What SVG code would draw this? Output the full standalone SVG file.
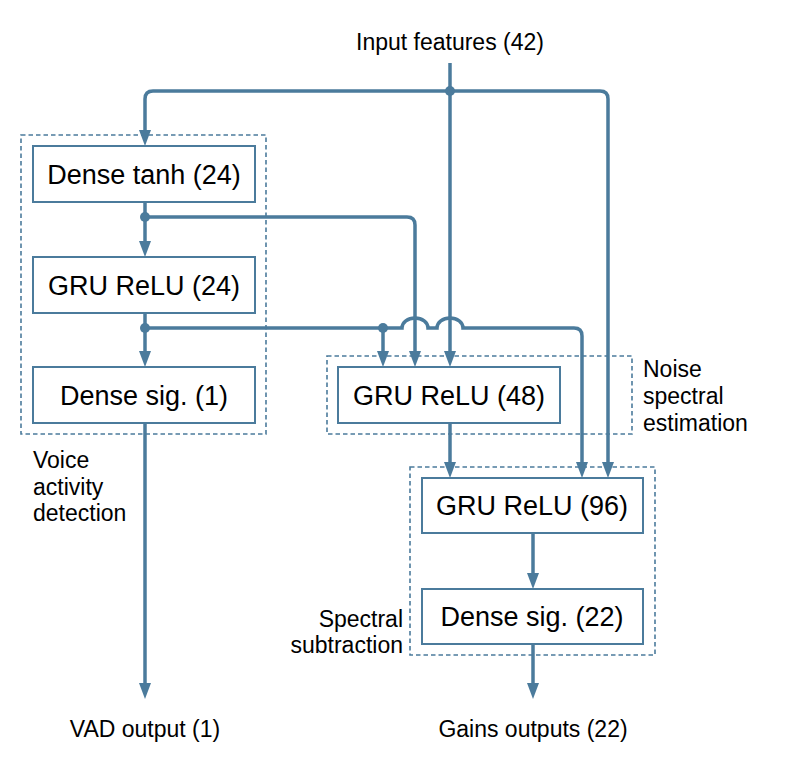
<svg xmlns="http://www.w3.org/2000/svg" width="789" height="773" viewBox="0 0 789 773">
<defs>
<style>
.box{fill:#fff;stroke:#4b7b9c;stroke-width:2}
.grp{fill:none;stroke:#4b7b9c;stroke-width:1.6;stroke-dasharray:4.5 3}
.bt{font-family:"Liberation Sans",Arial,sans-serif;font-size:27px;fill:#000;text-anchor:middle}
.lb{font-family:"Liberation Sans",Arial,sans-serif;font-size:23px;fill:#000}
.c{fill:none;stroke:#4b7b9c;stroke-width:3.5;marker-end:url(#ah)}
.cn{fill:none;stroke:#4b7b9c;stroke-width:3.5}
.dot{fill:#4b7b9c}
</style>
<marker id="ah" viewBox="0 0 16 12" markerWidth="16" markerHeight="12" refX="8" refY="6" orient="auto" markerUnits="userSpaceOnUse">
<path d="M0,0 L16,6 L0,12 z" fill="#4b7b9c"/>
</marker>
</defs>
<rect width="789" height="773" fill="#fff"/>

<g id="group-vad">
<rect class="grp" x="21" y="135" width="245" height="299"/>
<text class="lb" x="33" y="468">Voice</text>
<text class="lb" x="33" y="495">activity</text>
<text class="lb" x="33" y="521">detection</text>
</g>
<g id="group-noise">
<rect class="grp" x="327" y="356" width="305" height="78"/>
<text class="lb" x="643" y="377">Noise</text>
<text class="lb" x="643" y="404">spectral</text>
<text class="lb" x="643" y="431">estimation</text>
</g>
<g id="group-spectral">
<rect class="grp" x="410" y="467" width="245" height="188"/>
<text class="lb" x="403" y="627" text-anchor="end">Spectral</text>
<text class="lb" x="403" y="653" text-anchor="end">subtraction</text>
</g>

<g id="connectors">
<path class="c" d="M450,63 V359"/>
<path class="c" d="M450,91 H153 Q145,91 145,99 V138"/>
<path class="c" d="M450,91 H600 Q608,91 608,99 V470"/>
<path class="c" d="M145,202 V249"/>
<path class="c" d="M145,217 H407 Q415,217 415,225 V359"/>
<path class="c" d="M145,313 V359"/>
<path class="c" d="M145,328 H402 A13 10 0 0 1 428,328 H437 A13 10 0 0 1 463,328 H574 Q582,328 582,336 V470"/>
<path class="c" d="M383,328 V359"/>
<path class="c" d="M450,423 V470"/>
<path class="c" d="M533,533 V581"/>
<path class="c" d="M145,423 V691"/>
<path class="c" d="M533,644 V691"/>
<circle class="dot" cx="450" cy="91" r="5"/>
<circle class="dot" cx="145" cy="217" r="5"/>
<circle class="dot" cx="145" cy="328" r="5"/>
<circle class="dot" cx="383" cy="328" r="5"/>
</g>

<g id="input"><text class="lb" x="450" y="50" text-anchor="middle">Input features (42)</text></g>
<g id="dense-tanh"><rect class="box" x="33" y="146" width="222" height="56"/><text class="bt" x="144" y="184">Dense tanh (24)</text></g>
<g id="gru-24"><rect class="box" x="33" y="257" width="222" height="56"/><text class="bt" x="144" y="295">GRU ReLU (24)</text></g>
<g id="dense-sig-1"><rect class="box" x="33" y="367" width="222" height="56"/><text class="bt" x="144" y="405">Dense sig. (1)</text></g>
<g id="gru-48"><rect class="box" x="338" y="367" width="222" height="56"/><text class="bt" x="449" y="405">GRU ReLU (48)</text></g>
<g id="gru-96"><rect class="box" x="422" y="478" width="221" height="55"/><text class="bt" x="532" y="515">GRU ReLU (96)</text></g>
<g id="dense-sig-22"><rect class="box" x="422" y="589" width="221" height="55"/><text class="bt" x="532" y="626">Dense sig. (22)</text></g>
<g id="vad-out"><text class="lb" x="145" y="737" text-anchor="middle">VAD output (1)</text></g>
<g id="gains-out"><text class="lb" x="533" y="737" text-anchor="middle">Gains outputs (22)</text></g>
</svg>
